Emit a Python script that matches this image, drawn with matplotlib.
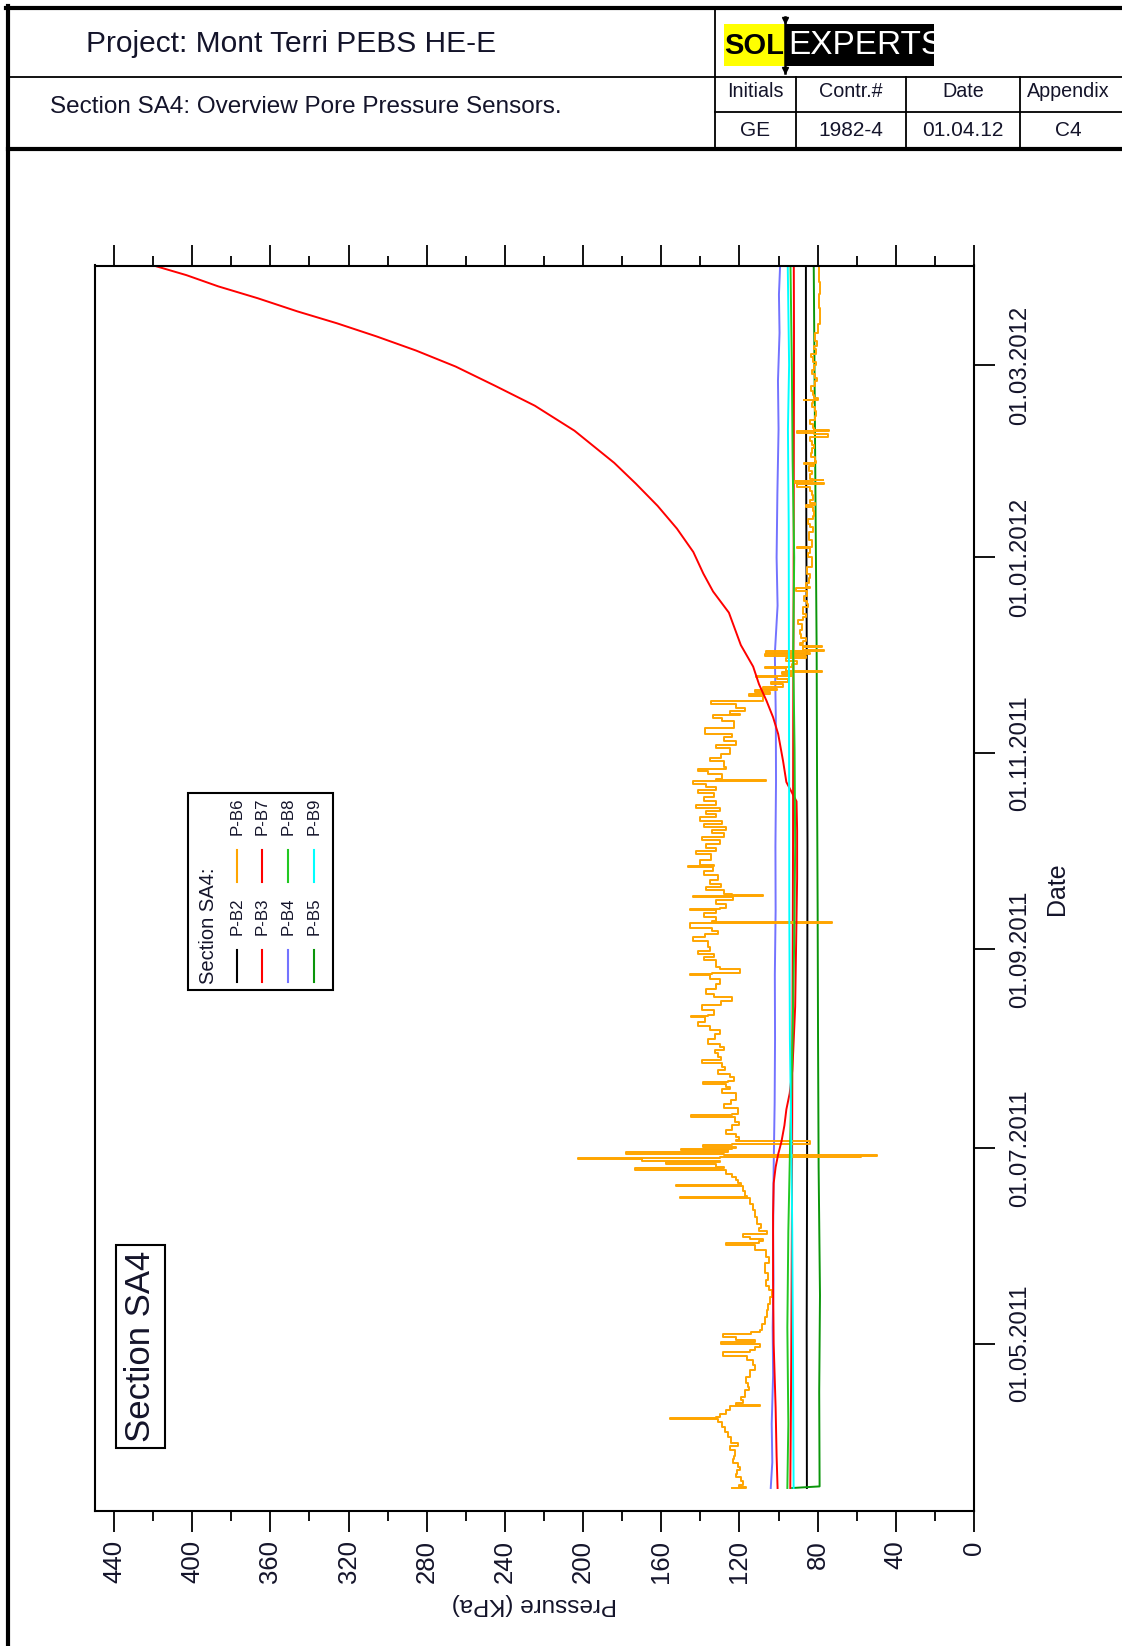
import matplotlib.pyplot as plt
import matplotlib.dates as mdates
from matplotlib.lines import Line2D
from matplotlib.patches import Rectangle
from matplotlib.ticker import MultipleLocator
import pandas as pd

plt.rcParams['font.family'] = ['Liberation Sans', 'DejaVu Sans']

W, H = 1122, 1646
INK = '#14142a'

# ---------------- sensor readings (days after first reading, kPa) ----------------
START = '2011-03-17'

b2_day = [0, 50, 100, 150, 200, 250, 300, 350, 381]
b2_kpa = [85.5, 85.6, 85.4, 85.3, 85.2, 85.5, 85.8, 86.0, 86.0]

b3_day = [0, 15, 40, 80, 120, 160, 200, 240, 280, 320, 360, 381]
b3_kpa = [94.0, 93.8, 93.5, 93.2, 93.0, 92.8, 92.6, 92.5, 92.3, 92.2, 92.1, 92.2]

b4_day = [0, 8, 20, 35, 50, 65, 80, 100, 120, 140, 160, 180, 200, 220, 240, 260,
          275, 290, 310, 330, 345, 360, 372, 381]
b4_kpa = [104.0, 103.2, 103.5, 102.8, 103.0, 102.6, 102.8, 102.5, 102.0, 101.8, 101.9,
          101.5, 101.6, 101.3, 101.4, 101.9, 100.5, 101.0, 100.6, 100.0, 100.3, 99.5,
          99.8, 99.2]

b5_day = [0, 0.5, 30, 60, 100, 140, 180, 220, 260, 300, 340, 381]
b5_kpa = [93.0, 79.0, 79.2, 78.8, 79.5, 79.8, 80.0, 80.3, 80.5, 81.0, 81.5, 82.0]

# P-B6 is noisy: (day, kPa) pairs, spikes included
b6_pairs = [
    (0.0, 124), (0.3, 116.5), (1.0, 120), (2.2, 118), (3.5, 119), (4.5, 122), (5.5, 121.5),
    (6.5, 119.5), (7.7, 120.7), (9, 123.5), (10, 123), (11.8, 122.4), (13, 125), (14, 121),
    (16, 124.1), (17.5, 126), (19.1, 127.5), (20.5, 129), (21.4, 131), (21.7, 155.7),
    (22.0, 131.8), (23.2, 130.1), (24.3, 127), (25.5, 125), (26.0, 109.6), (26.4, 121.6),
    (27.5, 118), (28.4, 119), (30.5, 117), (31.5, 115), (32.6, 115.6), (34.5, 116.5),
    (36.7, 114.7), (38.3, 112), (39.9, 113), (41.2, 116), (42.5, 128.4), (43.0, 114.7),
    (44, 112), (45.0, 109.6), (45.6, 129.3), (46.0, 112), (47.1, 121.6), (48.0, 128.5),
    (48.6, 114), (49.2, 109.6), (51, 108.5), (53.4, 107), (55.5, 106), (57.5, 105.3),
    (59.5, 104.5), (61.7, 103.6), (63, 105), (64.8, 106.2), (67, 105.5), (70.0, 107),
    (72, 105), (74.1, 106.2), (75.6, 112), (76.5, 126.7), (77.0, 110), (77.5, 108),
    (78.3, 114.7), (79.2, 118), (80.0, 106), (81, 110), (82.4, 108.8), (84.5, 111),
    (86.6, 112.2), (88.5, 113), (90.3, 114.7), (90.6, 150.6), (91.0, 116), (92.5, 117),
    (94.0, 118.2), (94.5, 152.3), (95.0, 119), (96, 121), (97.0, 122), (98, 124),
    (99.0, 126.7), (99.7, 173.6), (100.0, 128), (101.1, 131.8), (101.5, 157.8),
    (102.0, 130), (102.4, 170), (102.7, 202.8), (103.0, 131), (103.2, 130.1), (103.6, 57.7),
    (103.9, 49.8), (104.2, 128), (104.8, 177.9), (105.2, 126), (105.7, 150), (106.0, 124),
    (106.3, 121.6), (106.8, 138.6), (107.2, 124), (108.0, 84), (108.4, 122), (109.3, 120),
    (110.4, 121.6), (111.5, 127), (113.0, 124), (114.2, 120), (115.6, 122.4), (116.2, 144.6),
    (116.7, 124), (118.5, 121), (119.6, 128), (120.8, 124.1), (122, 122), (123.0, 122),
    (124.2, 129), (125.0, 125), (126.0, 126.7), (126.5, 138.6), (127.0, 126), (128, 123),
    (129.0, 125), (130.2, 131), (131.2, 127.5), (132.5, 129), (133.4, 139), (134.3, 129.3),
    (135.5, 131), (136.4, 132.7), (137.5, 128), (138.5, 130), (140, 136), (141.5, 132.7),
    (142.8, 130), (144.0, 135), (145.2, 141), (146.7, 137.8), (147.0, 144.6), (147.5, 136),
    (149.0, 133), (150.4, 139), (151.9, 129.3), (153, 124), (154.0, 133), (155.5, 137),
    (157.1, 131.8), (158.5, 130), (160.0, 135.2), (160.2, 145.5), (160.6, 134),
    (161.6, 119.9), (162.5, 130), (164.4, 131.8), (165.5, 138), (166.5, 133), (167.5, 141),
    (168.5, 135.2), (170.5, 136), (171.6, 144), (172.7, 137.8), (173.6, 131), (174.5, 134),
    (176.0, 145.5), (176.3, 72.9), (176.6, 134), (178.0, 132), (179.2, 138), (180.0, 131.8),
    (180.3, 145.5), (180.7, 130), (182.0, 127), (183.2, 132), (184.1, 123.3), (184.4, 143.8),
    (184.7, 108), (185.0, 124), (186.5, 128), (187.4, 137), (188.3, 129.3), (189.6, 135),
    (191.0, 131), (192.2, 138), (193.5, 133.5), (193.8, 146.3), (194.2, 133), (195.8, 140),
    (197.6, 134.4), (198.5, 142), (199.5, 132), (200.6, 137), (201.8, 130.1), (203, 139),
    (204.0, 128), (205.0, 134), (205.9, 126.7), (207, 138), (208.0, 129), (209, 140),
    (210.1, 131.8), (211, 137), (212.0, 130), (213, 142), (214.2, 131.8), (215.4, 138),
    (216.5, 133), (217.5, 141), (218.4, 131.8), (219.3, 137), (220.2, 143.8), (220.4, 138.6),
    (220.6, 106.2), (221.0, 132), (222.5, 129), (223.4, 136), (224.2, 141.2), (224.6, 126.7),
    (226.5, 128), (227.6, 135), (228.7, 129.3), (230.5, 125), (231.6, 132), (232.9, 121.6),
    (234, 128), (235.0, 124), (236.8, 137.8), (237.0, 126.7), (239.0, 123), (240, 129),
    (241.0, 133.5), (241.2, 119.9), (242.2, 125), (243.0, 117), (244.2, 122), (245.2, 134.4),
    (245.4, 114.7), (246.8, 108), (247.4, 115), (248.0, 104.5), (248.6, 112), (249.0, 101),
    (249.6, 108), (250.5, 97.7), (251.2, 104), (252.0, 95), (252.6, 101), (253.2, 111.3),
    (253.7, 92.5), (254.2, 98.4), (254.5, 78), (255.5, 96), (256.0, 107), (256.8, 93),
    (257.8, 90.8), (258.6, 96), (259.2, 86), (260.0, 107), (260.3, 84), (260.8, 106.5),
    (261.2, 77), (262.0, 87.4), (262.3, 78), (262.6, 87.4), (263.3, 89), (264.1, 87.4),
    (265, 86), (266.1, 88.3), (267.5, 89), (269.3, 88.2), (270.6, 90), (271.3, 87.4),
    (272.5, 86), (274.5, 87.4), (275.5, 85), (276.5, 85.7), (278, 87), (279.7, 85.7),
    (280.4, 91), (280.7, 84), (282.0, 86), (283.5, 84.5), (284.9, 84), (286, 85.5),
    (287.0, 85.5), (288.5, 83), (290.1, 83.1), (291.5, 85), (293.0, 84), (293.4, 90.4),
    (293.7, 83), (295.3, 83.1), (296.5, 84.5), (298.0, 84.5), (299.5, 82.5), (300.5, 84),
    (302, 85), (303.0, 82.5), (304.5, 82), (305.7, 82.3), (306.5, 86), (307, 81.5),
    (308.0, 84), (309.5, 82.5), (310.8, 83.1), (312, 84), (313, 90.4), (313.3, 77),
    (313.8, 91.6), (314.0, 82.3), (314.3, 77.1), (314.6, 82.5), (316, 84), (317.1, 83.1),
    (318.5, 84.5), (319.0, 82), (319.6, 87), (320.0, 81), (321.2, 81.4), (322.5, 83.5),
    (324.0, 83), (325, 82), (326.4, 83.1), (327.5, 84), (328.5, 74.6), (328.8, 82),
    (329.4, 90.4), (329.8, 74.2), (330.3, 82), (331.6, 82.3), (333, 84), (334.0, 81.5),
    (335.5, 81), (336.8, 81.4), (338, 83), (339.0, 82.5), (339.2, 87), (339.6, 80),
    (340.5, 82), (342.0, 82.3), (343.5, 83.5), (345.0, 81.5), (346, 80.5), (347.2, 81.4),
    (348.5, 83), (350.0, 82), (351, 81), (352.4, 82.3), (353.5, 83.5), (355.0, 81),
    (356, 82), (357.6, 80.5), (359, 81.5), (360.0, 81.5), (361.5, 80), (362.7, 79.7),
    (365.0, 79), (367.9, 78.8), (372.0, 79.2), (376.0, 79), (381.0, 79.5),
]
b6_day = [p[0] for p in b6_pairs]
b6_kpa = [p[1] for p in b6_pairs]

b7_day = [0, 10, 25, 45, 65, 85, 95, 100, 104, 108, 113, 118, 123, 130, 136, 150, 170,
          190, 205, 214, 220, 226.6, 235, 240.2, 245.4, 250.5, 256, 262.7, 272.8, 279.4,
          285, 291.7, 299, 306.1, 313, 319.5, 329.5, 337.3, 343.5, 349.5, 354.5, 358.9,
          363, 366.7, 370.8, 374.5, 378, 380.7]
b7_kpa = [100.5, 101.0, 101.5, 102.5, 102.8, 102.8, 102.5, 101.5, 100.2, 98.5, 97.0,
          96.0, 94.3, 93.0, 92.5, 91.5, 91.0, 90.5, 90.5, 90.8, 96.0, 97.7, 100.2, 102.8,
          106.2, 110.0, 113.0, 119.3, 125.4, 133.5, 138.5, 143.6, 152.0, 161.9, 173.0,
          184.1, 204.4, 224.7, 245.0, 265.2, 285.5, 305.7, 326.0, 346.2, 366.5, 386.7,
          403.0, 418.1]

b8_day = [0, 20, 50, 80, 110, 136, 170, 200, 230, 260, 290, 320, 350, 381]
b8_kpa = [95.5, 95.0, 95.5, 95.0, 94.0, 93.0, 92.0, 91.5, 91.8, 92.5, 92.0, 92.8, 93.2, 93.9]

b9_day = [0, 40, 80, 110, 140, 180, 220, 260, 300, 330, 350, 381]
b9_kpa = [92.3, 92.6, 93.0, 93.5, 94.2, 94.5, 94.6, 94.7, 94.8, 95.2, 94.6, 95.3]

names = ['P-B2', 'P-B3', 'P-B4', 'P-B5', 'P-B6', 'P-B7', 'P-B8', 'P-B9']
colors = ['#000000', '#ff0000', '#7373ff', '#0a960a', '#ffa500', '#ff0000', '#22c822', '#00ffff']
days = [b2_day, b3_day, b4_day, b5_day, b6_day, b7_day, b8_day, b9_day]
values = [b2_kpa, b3_kpa, b4_kpa, b5_kpa, b6_kpa, b7_kpa, b8_kpa, b9_kpa]
# the logger holds each reading until the next one; only the noisy sensor shows it
steps = ['default', 'default', 'default', 'default', 'steps-post', 'default', 'default', 'default']


def fx(x):
    return x / W


def fy(y):
    return 1 - y / H


def hline(fig, x0, x1, y, lw):
    fig.add_artist(Line2D([fx(x0), fx(x1)], [fy(y), fy(y)], color='black', lw=lw,
                          transform=fig.transFigure))


def vline(fig, x, y0, y1, lw):
    fig.add_artist(Line2D([fx(x), fx(x)], [fy(y0), fy(y1)], color='black', lw=lw,
                          transform=fig.transFigure))


fig = plt.figure(figsize=(W / 100, H / 100), dpi=100)

# ---------------- title block ----------------
hline(fig, 6, W, 7.5, 3)
vline(fig, 8, 6, H, 3)
hline(fig, 8, W, 76.5, 1.3)
hline(fig, 8, W, 149, 3)
vline(fig, 715, 7.5, 149, 1.3)
for xc in [795.6, 905.8, 1020.2]:
    vline(fig, xc, 76.5, 149, 1.3)
hline(fig, 715, W, 112.3, 1.3)

fig.text(fx(86), fy(44), 'Project: Mont Terri PEBS HE-E', fontsize=21.5, color=INK,
         ha='left', va='center')
fig.text(fx(50), fy(107), 'Section SA4: Overview Pore Pressure Sensors.', fontsize=17.5,
         color=INK, ha='left', va='center')
for xc, head, val in [(755.3, 'Initials', 'GE'), (850.7, 'Contr.#', '1982-4'),
                      (963, 'Date', '01.04.12'), (1068.5, 'Appendix', 'C4')]:
    fig.text(fx(xc), fy(91.5), head, fontsize=14.2, color=INK, ha='center', va='center')
    fig.text(fx(xc), fy(130), val, fontsize=15, color=INK, ha='center', va='center')

# company logo
fig.add_artist(Rectangle((fx(724), fy(66)), (785 - 724) / W, 42 / H, facecolor='#ffff00',
                         edgecolor='none', transform=fig.transFigure))
logo_dark = Rectangle((fx(785), fy(66)), (934 - 785) / W, 42 / H, facecolor='black',
                      edgecolor='none', transform=fig.transFigure)
fig.add_artist(logo_dark)
fig.text(fx(754.5), fy(45.5), 'SOL', fontsize=21, fontweight='bold', color='black',
         ha='center', va='center')
t = fig.text(fx(788), fy(45.5), 'EXPERTS', fontsize=24, color='white', ha='left', va='center')
t.set_clip_path(logo_dark)
vline(fig, 785, 17, 73, 1.8)
fig.add_artist(Line2D([fx(785), fx(785)], [fy(20), fy(70)], ls='none', marker='v', ms=5,
                      color='black', transform=fig.transFigure))

# ---------------- chart ----------------
ax = fig.add_axes([94.5 / W, fy(1511), 879.5 / W, 1245.5 / H])
t0 = pd.Timestamp(START)
for d, v, c, ds in zip(days, values, colors, steps):
    ax.plot(v, t0 + pd.to_timedelta(d, unit='D'), color=c, lw=1.4, drawstyle=ds, zorder=2)

ax.set_xlim(450, 0)
ax.set_ylim(pd.Timestamp('2011-03-09 20:00'), pd.Timestamp('2012-04-01'))
ax.xaxis.set_major_locator(MultipleLocator(40))
ax.xaxis.set_minor_locator(MultipleLocator(20))
ax.tick_params(axis='x', which='both', top=True, bottom=True, direction='out',
               labeltop=False, width=1.3, labelsize=18.5, labelrotation=90, pad=6,
               labelcolor=INK)
ax.tick_params(axis='x', which='major', length=15)
ax.tick_params(axis='x', which='minor', length=7.2)

ax.yaxis.set_major_locator(mdates.MonthLocator(bymonth=[1, 3, 5, 7, 9, 11]))
ax.yaxis.set_major_formatter(mdates.DateFormatter('%d.%m.%Y'))
ax.tick_params(axis='y', which='both', left=False, right=True, labelleft=False,
               labelright=True, direction='out', length=15, width=1.3, pad=10,
               labelsize=17.2, labelrotation=90, labelcolor=INK)
for lab in ax.get_yticklabels():
    lab.set_va('center')

for sp in ax.spines.values():
    sp.set_linewidth(1.5)

ax.set_xlabel('Pressure (KPa)', fontsize=17.5, rotation=180, color=INK, va='center')
ax.xaxis.set_label_coords(0.5, -(1604 - 1511) / 1245.5)
ax.yaxis.set_label_position('right')
ax.set_ylabel('Date', fontsize=18, rotation=90, color=INK, va='center')
ax.yaxis.set_label_coords((1057 - 94.5) / 879.5, 0.5)

# rotated legend
fig.add_artist(Rectangle((fx(188), fy(990)), 145 / W, 197 / H, facecolor='white',
                         edgecolor='black', lw=1.5, transform=fig.transFigure, zorder=5))
fig.text(fx(208), fy(926), 'Section SA4:', fontsize=14.5, rotation=90, color=INK,
         ha='center', va='center', zorder=6)
rows_x = [236.7, 262.3, 288.3, 314.3]
for i, (name, c) in enumerate(zip(names, colors)):
    xr = rows_x[i % 4]
    y_line, y_txt = (966, 916.5) if i < 4 else (866, 816.5)
    fig.add_artist(Line2D([fx(xr), fx(xr)], [fy(y_line + 16), fy(y_line - 16)], color=c,
                          lw=1.5, transform=fig.transFigure, zorder=6))
    fig.text(fx(xr), fy(y_txt), name, fontsize=12.2, rotation=90, color=INK,
             ha='center', va='center', zorder=6)

# section tag
fig.add_artist(Rectangle((fx(115.5), fy(1448)), 49.3 / W, 203 / H, facecolor='white',
                         edgecolor='black', lw=1.5, transform=fig.transFigure, zorder=5))
fig.text(fx(140.5), fy(1346), 'Section SA4', fontsize=25, rotation=90, color=INK,
         ha='center', va='center', zorder=6)

fig.savefig('out.png', dpi=100)
